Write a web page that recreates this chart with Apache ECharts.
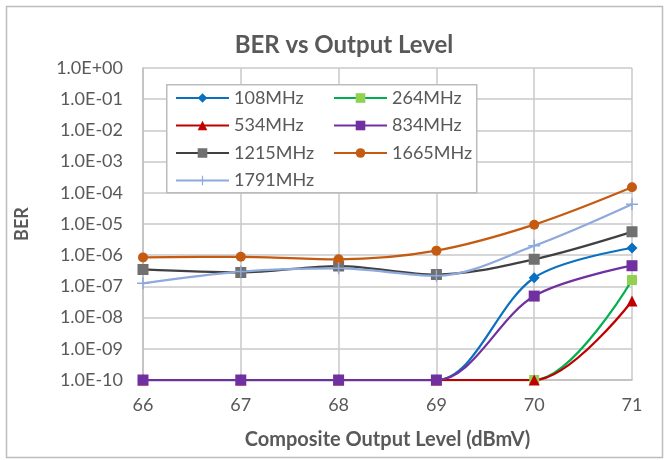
<!DOCTYPE html>
<html>
<head>
<meta charset="utf-8">
<script src="https://cdn.jsdelivr.net/npm/echarts@6/dist/echarts.min.js"></script>
<style>
  html, body { margin: 0; padding: 0; background: #fff; }
  #chart { width: 666px; height: 460px; }
</style>
</head>
<body>
<div id="chart"></div>
<script>
// Output level steps (dBmV)
const levels = [66, 67, 68, 69, 70, 71];

// Measured bit error rate per carrier frequency
const ber108  = [1e-10, 1e-10, 1e-10, 1e-10, 1.9e-7, 1.7e-6];
const ber264  = [1e-10, 1e-10, 1e-10, 1e-10, 1e-10, 1.6e-7];
const ber534  = [1e-10, 1e-10, 1e-10, 1e-10, 1e-10, 3.4e-8];
const ber834  = [1e-10, 1e-10, 1e-10, 1e-10, 4.9e-8, 4.6e-7];
const ber1215 = [3.5e-7, 2.8e-7, 4.5e-7, 2.4e-7, 7.4e-7, 5.6e-6];
const ber1665 = [8.5e-7, 8.9e-7, 7.4e-7, 1.4e-6, 9.5e-6, 1.5e-4];
const ber1791 = [1.26e-7, 3.0e-7, 3.8e-7, 2.2e-7, 2.0e-6, 4.3e-5];

const seriesNames = ['108MHz', '264MHz', '534MHz', '834MHz', '1215MHz', '1665MHz', '1791MHz'];
const seriesData  = [ber108, ber264, ber534, ber834, ber1215, ber1665, ber1791];

const FONT = 'Lato';
const TEXT = '#595959';

const styles = [
  { line: '#0A70C0', fill: '#0A70C0', symbol: 'diamond', size: 11 },
  { line: '#00B050', fill: '#92D050', symbol: 'rect', size: 10 },
  { line: '#C00000', fill: '#C00000', symbol: 'triangle', size: 11 },
  { line: '#7030A0', fill: '#7030A0', symbol: 'rect', size: 11 },
  { line: '#404040', fill: '#707070', symbol: 'path://M0,0H10V10H0Z M1,1L5,4.2L9,1L5.8,5L9,9L5,5.8L1,9L4.2,5Z', size: 11 },
  { line: '#C55A11', fill: '#C55A11', symbol: 'circle', size: 10 },
  { line: '#8EA9DB', fill: '#8EA9DB', symbol: 'path://M4.4,0H5.6V10H4.4Z M0,4.4H10V5.6H0Z', size: 12 }
];

function sciLabel(v) {
  const e = Math.round(Math.log10(v));
  const sign = e < 0 ? '-' : '+';
  const a = Math.abs(e);
  return '1.0E' + sign + (a < 10 ? '0' + a : '' + a);
}

const series = seriesNames.map((name, i) => ({
  name: name,
  type: 'line',
  smooth: 0.33,
  data: levels.map((x, j) => [x, seriesData[i][j]]),
  symbol: styles[i].symbol,
  symbolSize: styles[i].size,
  lineStyle: { color: styles[i].line, width: 2.25 },
  itemStyle: { color: styles[i].fill, borderWidth: 0 },
  emphasis: { disabled: true },
  animation: false
}));

const legendText = { fontFamily: FONT, fontSize: 18, color: TEXT };

const chart = echarts.init(document.getElementById('chart'), null, { renderer: 'canvas' });
chart.setOption({
  backgroundColor: '#fff',
  animation: false,
  title: {
    text: 'BER vs Output Level',
    left: 339, top: 28, textAlign: 'center',
    textStyle: { fontFamily: FONT, fontSize: 24, fontWeight: 'bold', color: TEXT }
  },
  graphic: [
    { type: 'rect', left: 4, top: 4, shape: { width: 656, height: 451 },
      style: { fill: 'none', stroke: '#bcbcbc', lineWidth: 1.5 }, silent: true },
    { type: 'rect', left: 166, top: 84, z: 90, shape: { width: 310, height: 108 },
      style: { fill: '#fff', stroke: '#bcbcbc', lineWidth: 1.5 }, silent: true }
  ],
  legend: [
    {
      data: ['108MHz', '534MHz', '1215MHz', '1791MHz'],
      orient: 'vertical', left: 175, top: 89, z: 100, padding: 0,
      itemWidth: 53, itemHeight: 12, itemGap: 9.5,
      textStyle: legendText, selectedMode: false
    },
    {
      data: ['264MHz', '834MHz', '1665MHz'],
      orient: 'vertical', left: 333, top: 89, z: 100, padding: 0,
      itemWidth: 53, itemHeight: 12, itemGap: 9.5,
      textStyle: legendText, selectedMode: false
    }
  ],
  grid: { left: 143, right: 34, top: 68, bottom: 80 },
  xAxis: {
    type: 'value', min: 66, max: 71, interval: 1,
    name: 'Composite Output Level (dBmV)', nameLocation: 'middle', nameGap: 50,
    nameTextStyle: { fontFamily: FONT, fontSize: 20, fontWeight: 'bold', color: TEXT },
    axisLine: { show: true, lineStyle: { color: '#bfbfbf', width: 1.5 } },
    axisTick: { show: false },
    axisLabel: { fontFamily: FONT, fontSize: 18, color: TEXT, margin: 16 },
    splitLine: { show: true, lineStyle: { color: '#c8c8c8', width: 1.5 } }
  },
  yAxis: {
    type: 'log', logBase: 10, min: 1e-10, max: 1, interval: 1,
    name: 'BER', nameLocation: 'middle', nameGap: 112, nameRotate: 90,
    nameTextStyle: { fontFamily: FONT, fontSize: 18, fontWeight: 'bold', color: TEXT },
    axisLine: { show: true, lineStyle: { color: '#bfbfbf', width: 1.5 } },
    axisTick: { show: false },
    axisLabel: { fontFamily: FONT, fontSize: 18, color: TEXT, margin: 20, formatter: sciLabel },
    splitLine: { show: true, lineStyle: { color: '#c8c8c8', width: 1.5 } }
  },
  series: series
});
</script>
</body>
</html>
